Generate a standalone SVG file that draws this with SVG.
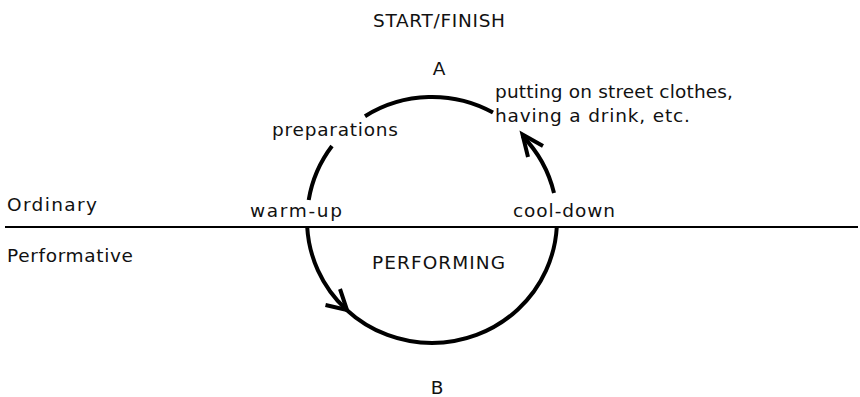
<svg xmlns="http://www.w3.org/2000/svg" width="860" height="397" viewBox="0 0 860 397">
  <style>
    .lbl { font-family: "DejaVu Sans", "Liberation Sans", sans-serif; font-size: 18.5px; fill: #111; }
    .arc { fill: none; stroke: #000; stroke-width: 4; stroke-linecap: butt; }
    .head { fill: none; stroke: #000; stroke-width: 4; stroke-linejoin: miter; stroke-linecap: butt; }
    .divider { stroke: #000; stroke-width: 2; }
  </style>
  <rect width="860" height="397" fill="#fff"/>

  <!-- cycle: ellipse centre (432,220), rx 125, ry 123, broken where labels sit -->
  <g id="connectors">
    <line class="divider" x1="5" y1="227" x2="858" y2="227"/>
    <path class="arc" d="M 365 116.2 A 125 123 0 0 1 493 112.6"/>
    <path class="arc" d="M 332 146 A 125 123 0 0 0 308.7 200"/>
    <path class="arc" d="M 307.2 227 A 125 123 0 0 0 556.8 227"/>
    <path class="arc" d="M 554 193 A 125 123 0 0 0 522.5 136"/>
    <path class="head" d="M 340 289 L 347 310 L 325.5 305"/>
    <path class="head" d="M 543 146 L 522.5 134.5 L 528 157"/>
  </g>

  <g id="start-finish"><text class="lbl" x="373" y="27" textLength="132">START/FINISH</text></g>
  <g id="point-a"><text class="lbl" x="439" y="75" text-anchor="middle">A</text></g>
  <g id="point-b"><text class="lbl" x="437" y="394" text-anchor="middle">B</text></g>
  <g id="after-note">
    <text class="lbl" x="495" y="98" textLength="238">putting on street clothes,</text>
    <text class="lbl" x="495" y="122" textLength="195">having a drink, etc.</text>
  </g>
  <g id="preparations"><text class="lbl" x="272" y="136" textLength="126">preparations</text></g>
  <g id="warm-up"><text class="lbl" x="250" y="217" textLength="92">warm-up</text></g>
  <g id="cool-down"><text class="lbl" x="513" y="217" textLength="102">cool-down</text></g>
  <g id="ordinary"><text class="lbl" x="7" y="211" textLength="90">Ordinary</text></g>
  <g id="performative"><text class="lbl" x="7" y="262" textLength="126">Performative</text></g>
  <g id="performing"><text class="lbl" x="372" y="269" textLength="133">PERFORMING</text></g>
</svg>
